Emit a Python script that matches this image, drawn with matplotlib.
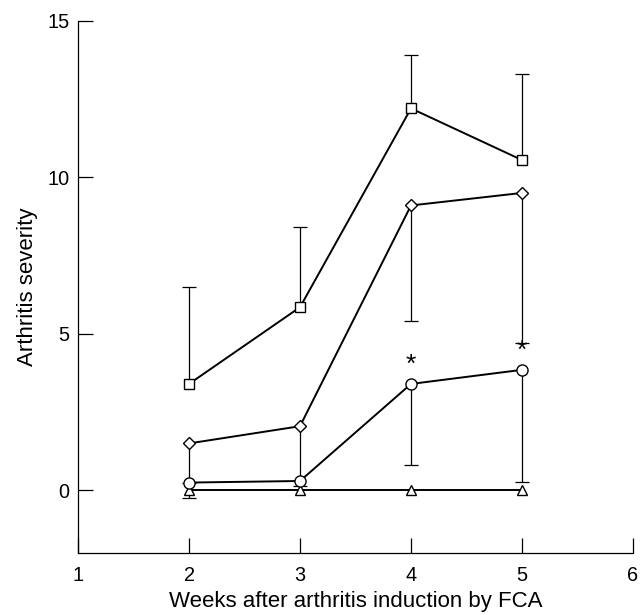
import numpy as np
import matplotlib
matplotlib.use("Agg")
import matplotlib.pyplot as plt

plt.rcParams['font.family'] = ['Liberation Sans', 'DejaVu Sans']

weeks = [2, 3, 4, 5]
square_mean = [3.4, 5.85, 12.2, 10.55]
square_upper = [6.5, 8.4, 13.9, 13.3]
diamond_mean = [1.5, 2.05, 9.1, 9.5]
diamond_lower = [0.25, 0.15, 5.4, 4.7]
circle_mean = [0.25, 0.3, 3.4, 3.85]
circle_lower = [-0.25, np.nan, 0.8, 0.28]
triangle_mean = [0, 0, 0, 0]
star_weeks = [4, 5]
star_values = [3.4, 3.85]

xticks = [1, 2, 3, 4, 5, 6]
yticks = [0, 5, 10, 15]

fig = plt.figure(figsize=(6.41, 6.15), dpi=100)
ax = fig.add_axes([0.1217, 0.1008, 0.8658, 0.8655])

err_lw = 0.9
cap_ms = 9.5

def err(xs, ends, ys):
    xs = np.array(xs, float); ends = np.array(ends, float); ys = np.array(ys, float)
    ok = ~np.isnan(ends)
    ax.vlines(xs[ok], ys[ok], ends[ok], colors='black', lw=err_lw, zorder=1)
    ax.plot(xs[ok], ends[ok], ls='none', marker='_', ms=cap_ms, mew=err_lw,
            color='black', zorder=1)

err(weeks, square_upper, square_mean)
err(weeks, diamond_lower, diamond_mean)
err(weeks, circle_lower, circle_mean)

kw = dict(color='black', lw=1.4, mfc='white', mec='black', mew=1.0, zorder=3)
ax.plot(weeks, triangle_mean, marker='^', ms=7.5, **kw)
ax.plot(weeks, circle_mean, marker='o', ms=8, **kw)
ax.plot(weeks, diamond_mean, marker='D', ms=6, **kw)
ax.plot(weeks, square_mean, marker='s', ms=7, **kw)

for wx, v in zip(star_weeks, star_values):
    ax.text(wx, v + 0.62, '*', ha='center', va='center', fontsize=19)

ax.set_xlim(1, 6)
ax.set_ylim(-2, 15)
ax.set_xticks(xticks)
ax.set_yticks(yticks)
ax.spines['top'].set_visible(False)
ax.spines['right'].set_visible(False)
ax.spines['left'].set_bounds(-2, 15)
ax.tick_params(direction='in', length=10.5, width=0.9, labelsize=14.3, color='black')
ax.tick_params(axis='x', pad=9)
ax.tick_params(axis='y', pad=6)
for s in ['left', 'bottom']:
    ax.spines[s].set_linewidth(0.9)

ax.set_xlabel('Weeks after arthritis induction by FCA', fontsize=16, labelpad=5)
ax.set_ylabel('Arthritis severity', fontsize=16, labelpad=7)

fig.savefig('out.png', dpi=100)
